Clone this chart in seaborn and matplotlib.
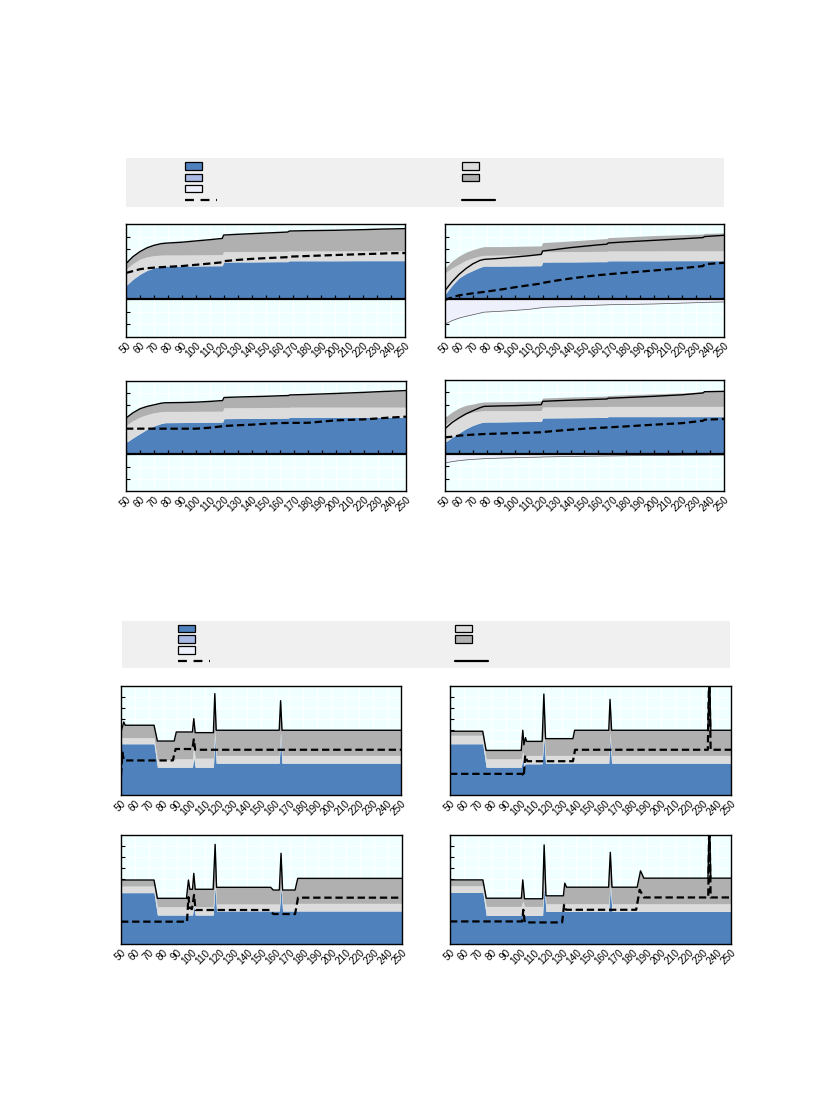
import matplotlib
matplotlib.use("Agg")
import matplotlib.pyplot as plt
import seaborn as sns
import numpy as np
from matplotlib.patches import Rectangle

# ---- data ----
x_ticks = list(range(50, 260, 10))

# upper group, shared x positions
x_top = [50, 55, 60, 65, 70, 75, 78, 90, 100, 110, 119, 120, 130, 140, 150, 160, 166, 167, 180, 200, 220, 235, 236, 250]

# panel 1 (upper left)
p1_blue = [1.1, 1.6, 2.0, 2.3, 2.5, 2.62, 2.65, 2.65, 2.66, 2.67, 2.68, 2.97, 2.98, 2.98, 2.99, 3.0, 3.0, 3.07, 3.07, 3.07, 3.08, 3.08, 3.08, 3.08]
p1_lgrey = [2.4, 2.85, 3.2, 3.38, 3.48, 3.52, 3.53, 3.53, 3.54, 3.55, 3.55, 3.8, 3.8, 3.81, 3.81, 3.82, 3.82, 3.85, 3.85, 3.85, 3.86, 3.86, 3.86, 3.86]
p1_solid = [2.85, 3.4, 3.8, 4.1, 4.3, 4.43, 4.47, 4.55, 4.65, 4.75, 4.85, 5.12, 5.18, 5.23, 5.28, 5.33, 5.36, 5.44, 5.47, 5.5, 5.55, 5.6, 5.6, 5.63]
p1_dash = [2.1, 2.25, 2.4, 2.48, 2.52, 2.56, 2.58, 2.65, 2.75, 2.85, 2.95, 3.04, 3.14, 3.22, 3.28, 3.33, 3.36, 3.4, 3.45, 3.53, 3.6, 3.65, 3.66, 3.69]

# panel 2 (upper right)
p2_blue = [0.4, 1.1, 1.7, 2.05, 2.3, 2.55, 2.65, 2.65, 2.66, 2.67, 2.68, 2.97, 2.98, 2.98, 2.99, 3.0, 3.0, 3.07, 3.07, 3.07, 3.08, 3.08, 3.08, 3.08]
p2_lgrey = [2.1, 2.5, 2.8, 3.1, 3.3, 3.45, 3.5, 3.52, 3.53, 3.54, 3.55, 3.8, 3.8, 3.81, 3.81, 3.82, 3.82, 3.85, 3.85, 3.85, 3.86, 3.86, 3.86, 3.86]
p2_mgrey = [2.5, 3.05, 3.45, 3.75, 3.96, 4.12, 4.2, 4.2, 4.22, 4.24, 4.26, 4.52, 4.58, 4.65, 4.72, 4.8, 4.84, 4.92, 4.98, 5.08, 5.15, 5.2, 5.25, 5.29]
p2_solid = [0.7, 1.4, 1.98, 2.45, 2.83, 3.1, 3.18, 3.27, 3.37, 3.47, 3.58, 3.85, 3.98, 4.12, 4.23, 4.34, 4.39, 4.49, 4.58, 4.7, 4.82, 4.92, 5.0, 5.1]
p2_dash = [-0.05, 0.15, 0.32, 0.4, 0.48, 0.55, 0.59, 0.78, 0.96, 1.12, 1.26, 1.31, 1.5, 1.66, 1.8, 1.93, 1.98, 2.0, 2.12, 2.3, 2.48, 2.65, 2.8, 2.91]
p2_neg = [-1.98, -1.7, -1.5, -1.35, -1.23, -1.1, -1.02, -0.95, -0.88, -0.8, -0.67, -0.64, -0.6, -0.55, -0.5, -0.46, -0.44, -0.43, -0.41, -0.37, -0.3, -0.25, -0.24, -0.21]

# panel 3 (second row left)
p3_blue = [0.95, 1.35, 1.7, 2.05, 2.32, 2.52, 2.59, 2.6, 2.62, 2.63, 2.64, 2.92, 2.93, 2.94, 2.95, 2.96, 2.97, 3.03, 3.03, 3.03, 3.03, 3.03, 3.03, 3.03]
p3_lgrey = [2.38, 2.75, 3.05, 3.25, 3.4, 3.48, 3.51, 3.51, 3.52, 3.52, 3.53, 3.81, 3.82, 3.82, 3.83, 3.84, 3.84, 3.86, 3.86, 3.86, 3.86, 3.86, 3.86, 3.86]
p3_solid = [2.97, 3.4, 3.73, 3.92, 4.05, 4.18, 4.22, 4.24, 4.27, 4.33, 4.4, 4.65, 4.69, 4.72, 4.75, 4.79, 4.81, 4.86, 4.9, 4.98, 5.07, 5.15, 5.15, 5.22]
p3_dash = [2.1, 2.1, 2.1, 2.1, 2.1, 2.1, 2.1, 2.1, 2.1, 2.18, 2.3, 2.32, 2.38, 2.43, 2.5, 2.56, 2.57, 2.57, 2.58, 2.78, 2.86, 2.98, 2.99, 3.08]

# panel 4 (second row right)
p4_blue = p3_blue
p4_lgrey = p3_lgrey
p4_mgrey = [2.97, 3.4, 3.73, 3.95, 4.05, 4.18, 4.22, 4.24, 4.25, 4.27, 4.3, 4.54, 4.58, 4.62, 4.65, 4.68, 4.7, 4.74, 4.8, 4.88, 4.95, 5.05, 5.1, 5.14]
p4_solid = [2.05, 2.55, 2.92, 3.25, 3.51, 3.75, 3.86, 3.9, 3.92, 3.96, 4.0, 4.27, 4.32, 4.36, 4.4, 4.44, 4.46, 4.52, 4.58, 4.68, 4.8, 4.95, 5.05, 5.08]
p4_dash = [1.35, 1.4, 1.49, 1.53, 1.57, 1.6, 1.62, 1.66, 1.7, 1.73, 1.76, 1.78, 1.88, 1.97, 2.05, 2.12, 2.15, 2.16, 2.24, 2.38, 2.5, 2.7, 2.78, 2.84]
p4_neg = [-0.73, -0.62, -0.54, -0.48, -0.44, -0.4, -0.38, -0.33, -0.3, -0.27, -0.25, -0.24, -0.22, -0.2, -0.18, -0.17, -0.16, -0.16, -0.14, -0.12, -0.1, -0.09, -0.09, -0.08]

# lower group, panel 5
b1_x = [50, 52, 53, 73.6, 76, 88, 89.5, 101, 102, 103, 116, 117, 118, 163, 164, 165, 250]
b1_solid = [5.78, 6.7, 6.4, 6.4, 4.95, 4.95, 5.78, 5.78, 7.0, 5.72, 5.72, 9.3, 5.94, 5.94, 8.65, 5.94, 5.94]
b1_lgrey = [5.26, 5.26, 5.26, 5.26, 3.23, 3.23, 3.32, 3.32, 4.6, 3.38, 3.38, 6.0, 3.63, 3.63, 5.8, 3.63, 3.63]
b1_blue = [4.7, 4.7, 4.7, 4.7, 2.55, 2.55, 2.55, 2.55, 3.4, 2.55, 2.55, 5.3, 2.92, 2.92, 5.3, 2.92, 2.92]
b1_dash_x = [50, 51, 52, 87, 89, 101, 102, 103, 250]
b1_dash = [1.8, 3.9, 3.17, 3.17, 4.22, 4.22, 5.1, 4.15, 4.15]

# panel 6
b2_x = [50, 73.3, 75.7, 100.7, 101.8, 102.6, 103.7, 104.5, 115.6, 116.8, 118, 137.5, 138.7, 163, 163.9, 165, 233.6, 234.6, 235.6, 250]
b2_solid = [5.85, 5.85, 4.09, 4.09, 5.94, 4.6, 5.26, 4.92, 4.92, 9.26, 5.17, 5.17, 5.94, 5.94, 8.77, 5.94, 5.94, 12, 5.94, 5.94]
b2_lgrey = [5.48, 5.48, 3.32, 3.32, 4.0, 3.5, 3.63, 3.63, 3.63, 6.0, 3.63, 3.63, 3.63, 3.63, 5.8, 3.63, 3.63, 3.63, 3.63, 3.63]
b2_blue = [4.7, 4.7, 2.55, 2.55, 3.3, 2.7, 2.86, 2.86, 2.86, 5.3, 2.92, 2.92, 2.92, 2.92, 5.3, 2.92, 2.92, 2.92, 2.92, 2.92]
b2_dash_x = [50, 101.5, 102.5, 103.5, 105, 137.5, 139, 233.5, 234.5, 235.5, 250]
b2_dash = [1.94, 1.94, 1.7, 3.63, 3.1, 3.1, 4.15, 4.15, 12, 4.15, 4.15]

# panel 7
b3_x = [50, 73.5, 75.9, 96.6, 98, 99, 100.9, 101.8, 102.8, 115.6, 117, 118, 156.5, 158.4, 162.7, 163.9, 165, 173.9, 175.8, 250]
b3_solid = [5.87, 5.87, 4.19, 4.19, 5.87, 5.02, 5.02, 6.48, 5.02, 5.02, 9.14, 5.2, 5.2, 4.95, 4.95, 8.32, 4.95, 4.95, 6.02, 6.02]
b3_lgrey = [5.32, 5.32, 3.42, 3.42, 4.0, 3.42, 3.42, 4.2, 3.42, 3.42, 6.0, 3.67, 3.67, 3.67, 3.67, 5.6, 3.67, 3.67, 3.73, 3.73]
b3_blue = [4.71, 4.71, 2.66, 2.66, 2.66, 2.66, 2.66, 3.5, 2.66, 2.66, 5.3, 3.03, 3.03, 3.03, 3.03, 5.2, 3.03, 3.03, 3.03, 3.03]
b3_dash_x = [50, 97, 98, 99, 100.5, 102, 103, 156, 158.4, 173.9, 176, 250]
b3_dash = [2.05, 2.05, 4.3, 3.3, 3.2, 4.5, 3.12, 3.12, 2.75, 2.75, 4.25, 4.25]

# panel 8
b4_x = [50, 73.4, 75.8, 100.8, 101.8, 103, 115.9, 117, 118.3, 130.7, 131.7, 133, 162.9, 164.1, 165.3, 183.2, 185.6, 188, 233.6, 234.6, 235.6, 250]
b4_solid = [5.88, 5.88, 4.2, 4.2, 5.88, 4.15, 4.15, 9.09, 4.42, 4.42, 5.58, 5.21, 5.21, 8.41, 5.21, 5.21, 6.71, 6.04, 6.04, 12, 6.04, 6.04]
b4_lgrey = [5.34, 5.34, 3.45, 3.45, 4.0, 3.45, 3.45, 6.0, 3.69, 3.69, 3.69, 3.69, 3.69, 5.6, 3.69, 3.69, 3.69, 3.69, 3.69, 3.69, 3.69, 3.69]
b4_blue = [4.73, 4.73, 2.62, 2.62, 3.0, 2.62, 2.62, 5.3, 2.99, 2.99, 2.99, 2.99, 2.99, 5.2, 2.99, 2.99, 2.99, 2.99, 2.99, 2.99, 2.99, 2.99]
b4_dash_x = [50, 101.3, 102.2, 103.2, 129.8, 131.2, 132.6, 182.5, 185, 188, 233.8, 234.6, 235.5, 250]
b4_dash = [2.07, 2.07, 3.14, 1.98, 1.98, 3.6, 3.14, 3.14, 4.97, 4.27, 4.27, 12, 4.27, 4.27]

# ---- colours ----
BLUE = "#4f81bd"
LBLUE = "#a9b9e4"
LAVENDER = "#eef0fb"
LGREY = "#dcdcdc"
MGREY = "#b0b0b0"
BG = "#f0ffff"
BOX = "#f0f0f0"

sns.set_style("white", rc={"axes.facecolor": BG, "grid.color": "white", "axes.edgecolor": "black",
                           "xtick.color": "black", "ytick.color": "black"})
plt.rcParams["font.family"] = ["Liberation Sans", "DejaVu Sans"]

W, H = 827, 1102
fig = plt.figure(figsize=(W / 100, H / 100), dpi=100)


def px_axes(x0, y0, x1, y1):
    return fig.add_axes([x0 / W, 1 - y1 / H, (x1 - x0) / W, (y1 - y0) / H])


def draw_panel(ax, x, blue, lgrey, mgrey, solid, dash_x, dash, ylim, neg=None, zero=False):
    ax.set_axisbelow(True)
    ax.grid(True, color="white", lw=0.8)
    ax.fill_between(x, 0, blue, color=BLUE, lw=0)
    ax.fill_between(x, blue, lgrey, color=LGREY, lw=0)
    ax.fill_between(x, lgrey, mgrey, color=MGREY, lw=0)
    if neg is not None:
        ax.fill_between(x, neg, 0, color=LAVENDER, lw=0)
        ax.plot(x, neg, color="#555555", lw=0.5)
    sns.lineplot(x=x, y=solid, ax=ax, color="black", lw=1.0, estimator=None, sort=False)
    sns.lineplot(x=dash_x, y=dash, ax=ax, color="black", lw=1.6,
                 linestyle=(0, (3.3, 1.7)), estimator=None, sort=False)
    if zero:
        ax.axhline(0, color="black", lw=1.6)
        ax.plot(x_ticks, np.zeros(len(x_ticks)), ls="none", marker=2, ms=3, mew=0.9, color="black")
    ax.set_xlim(50, 250)
    ax.set_ylim(*ylim)
    ax.set_xticks(x_ticks)
    ax.set_xticklabels([str(t) for t in x_ticks], rotation=45, ha="right",
                       rotation_mode="anchor", fontsize=7.2, color="black")
    ax.set_yticks(range(int(ylim[0]) + 1, int(ylim[1])))
    ax.set_yticklabels([])
    ax.tick_params(axis="x", length=0, pad=2.5)
    ax.tick_params(axis="y", direction="in", length=3, width=0.8, left=True)
    ax.set_xlabel("")
    ax.set_ylabel("")
    for s in ax.spines.values():
        s.set_linewidth(1.0)
        s.set_color("black")


def draw_legend(x0, y0, x1, y1, c1, c2, rows):
    lax = px_axes(x0, y0, x1, y1)
    lax.set_xlim(0, x1 - x0)
    lax.set_ylim(y1 - y0, 0)
    lax.axis("off")
    lax.add_patch(Rectangle((0, 0), x1 - x0, y1 - y0, color=BOX, lw=0))
    for col, colors in ((c1, [BLUE, LBLUE, LAVENDER]), (c2, [LGREY, MGREY])):
        for r, c in zip(rows, colors):
            lax.add_patch(Rectangle((col, r - 3.8), 17, 7.6, facecolor=c, edgecolor="black", lw=0.9))
    lax.plot([c1, c1 + 32], [rows[3], rows[3]], color="black", lw=1.6, ls=(0, (4, 3)))
    lax.plot([c2, c2 + 33], [rows[3], rows[3]], color="black", lw=1.6)


# upper group
draw_legend(126, 158, 724, 207, 59, 336, [8, 19.5, 30.5, 41.5])
ax = px_axes(126, 224, 405, 337)
draw_panel(ax, x_top, p1_blue, p1_lgrey, p1_solid, p1_solid, x_top, p1_dash, (-3, 6), zero=True)
ax = px_axes(445, 224, 724, 337)
draw_panel(ax, x_top, p2_blue, p2_lgrey, p2_mgrey, p2_solid, x_top, p2_dash, (-3, 6), neg=p2_neg, zero=True)
ax = px_axes(126, 381, 406, 491)
draw_panel(ax, x_top, p3_blue, p3_lgrey, p3_solid, p3_solid, x_top, p3_dash, (-3, 6), zero=True)
ax = px_axes(445, 380, 724, 491)
draw_panel(ax, x_top, p4_blue, p4_lgrey, p4_mgrey, p4_solid, x_top, p4_dash, (-3, 6), neg=p4_neg, zero=True)

# lower group
draw_legend(122, 621, 730, 668, 55.6, 333, [7.5, 18.1, 29.1, 39.9])
ax = px_axes(121, 686, 401, 795)
draw_panel(ax, b1_x, b1_blue, b1_lgrey, b1_solid, b1_solid, b1_dash_x, b1_dash, (0, 10))
ax = px_axes(450, 686, 731, 795)
draw_panel(ax, b2_x, b2_blue, b2_lgrey, b2_solid, b2_solid, b2_dash_x, b2_dash, (0, 10))
ax = px_axes(121, 835, 402, 944)
draw_panel(ax, b3_x, b3_blue, b3_lgrey, b3_solid, b3_solid, b3_dash_x, b3_dash, (0, 10))
ax = px_axes(450, 835, 731, 944)
draw_panel(ax, b4_x, b4_blue, b4_lgrey, b4_solid, b4_solid, b4_dash_x, b4_dash, (0, 10))

fig.savefig("out.png", dpi=100, facecolor="white")
